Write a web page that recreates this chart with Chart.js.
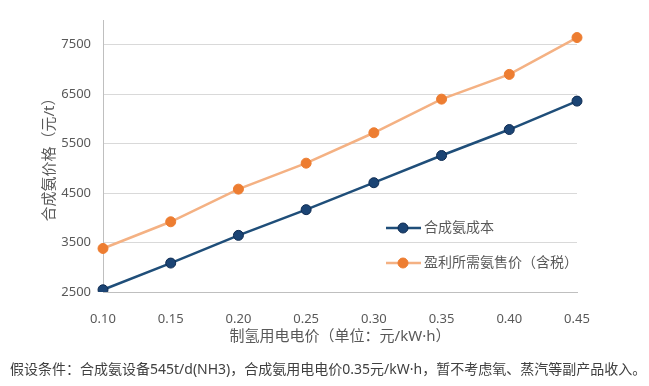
<!DOCTYPE html>
<html>
<head>
<meta charset="utf-8">
<script src="https://cdn.jsdelivr.net/npm/chart.js@4/dist/chart.umd.min.js"></script>
<style>
  body { margin: 0; background: #fff; }
  #wrap { position: relative; width: 649px; height: 386px; }
  #note {
    position: absolute; left: 10px; top: 360px;
    font: 14px "Noto Sans", "Noto Sans CJK SC", sans-serif;
    color: #404040; white-space: nowrap; line-height: 18px;
  }
</style>
</head>
<body>
<div id="wrap">
  <canvas id="ammoniaChart" width="649" height="386"></canvas>
  <div id="note">假设条件：合成氨设备545t/d(NH3)，合成氨用电电价0.35元/kW·h，暂不考虑氧、蒸汽等副产品收入。</div>
</div>
<script>
// 电价 (元/kW·h)
var elecPrices = ['0.10', '0.15', '0.20', '0.25', '0.30', '0.35', '0.40', '0.45'];
// 合成氨成本 (元/t)
var costValues = [2545, 3085, 3645, 4165, 4710, 5260, 5785, 6360];
// 盈利所需氨售价（含税）(元/t)
var priceValues = [3380, 3920, 4580, 5105, 5720, 6400, 6900, 7645];
var yTicks = [2500, 3500, 4500, 5500, 6500, 7500];

var seriesNames = ['合成氨成本', '盈利所需氨售价（含税）'];
var FONT = '"Noto Sans", "Noto Sans CJK SC", sans-serif';

// legend sits inside the plot, on top of the gridlines
var innerLegend = {
	id: 'innerLegend',
	afterDraw: function(chart){
		var ctx = chart.ctx;
		var rows = [228, 263];
		ctx.save();
		chart.data.datasets.forEach(function(ds, i){
			var y = rows[i];
			ctx.strokeStyle = ds.borderColor;
			ctx.lineWidth = 2.5;
			ctx.beginPath();
			ctx.moveTo(386, y);
			ctx.lineTo(421, y);
			ctx.stroke();
			ctx.fillStyle = ds.pointBackgroundColor;
			ctx.strokeStyle = ds.pointBorderColor;
			ctx.lineWidth = 1;
			ctx.beginPath();
			ctx.arc(403, y, 5, 0, 2 * Math.PI);
			ctx.fill();
			ctx.stroke();
			ctx.fillStyle = '#595959';
			ctx.font = '14px ' + FONT;
			ctx.textBaseline = 'middle';
			ctx.fillText(ds.label, 424, y);
		});
		ctx.restore();
	}
};

var ctx = document.getElementById('ammoniaChart');
var chart = new Chart(ctx, {
	type: 'line',
	data: {
		labels: elecPrices,
		datasets: [{
			label: seriesNames[0],
			data: costValues,
			borderColor: '#1F4E79',
			borderWidth: 2.5,
			pointRadius: 5,
			pointBackgroundColor: '#1B4474',
			pointBorderColor: '#0F2C52',
			pointBorderWidth: 1,
			tension: 0
		}, {
			label: seriesNames[1],
			data: priceValues,
			borderColor: '#F4B183',
			borderWidth: 2.5,
			pointRadius: 5,
			pointBackgroundColor: '#ED7D31',
			pointBorderColor: '#ED7D31',
			pointBorderWidth: 1,
			tension: 0
		}]
	},
	options: {
		responsive: false,
		animation: false,
		layout: { padding: { top: 20, right: 72, left: 0, bottom: 34 } },
		plugins: {
			legend: { display: false },
			tooltip: { enabled: false }
		},
		scales: {
			x: {
				offset: false,
				afterFit: function(s){ s.height = 60; },
				grid: { display: false },
				border: { display: true, color: '#BFBFBF', width: 1 },
				ticks: {
					color: '#595959',
					font: { size: 13, family: FONT },
					padding: 11,
					maxRotation: 0
				},
				title: {
					display: true,
					text: '制氢用电电价（单位：元/kW·h）',
					color: '#595959',
					font: { size: 15, family: FONT },
					padding: { top: 0, bottom: 6 }
				}
			},
			y: {
				min: 2500,
				max: 8000,
				afterFit: function(s){ s.width = 103; },
				afterBuildTicks: function(s){
					s.ticks = yTicks.map(function(v){ return { value: v }; });
				},
				grid: { color: '#D9D9D9', drawTicks: false },
				border: { display: true, color: '#BFBFBF', width: 1 },
				ticks: {
					color: '#595959',
					font: { size: 13, family: FONT },
					padding: 12,
					callback: function(v){ return String(v); }
				},
				title: {
					display: true,
					text: '合成氨价格（元/t）',
					color: '#595959',
					font: { size: 15, family: FONT },
					padding: { top: 41, bottom: 0 }
				}
			}
		}
	},
	plugins: [innerLegend]
});
</script>
</body>
</html>
